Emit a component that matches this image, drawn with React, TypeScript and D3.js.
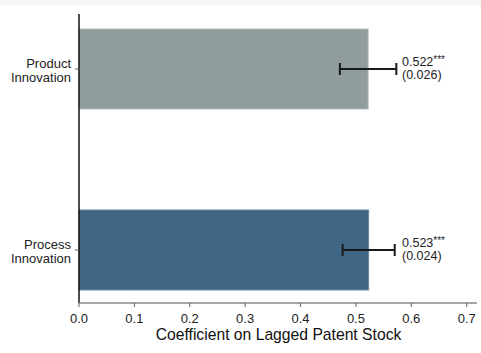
import React from "react";
import * as d3 from "d3";

const categories = ["Product Innovation", "Process Innovation"];
const labelLines = [["Product", "Innovation"], ["Process", "Innovation"]];
const coefs = [0.522, 0.523];
const stdErrs = [0.026, 0.024];
const coefLabels = ["0.522", "0.523"];
const seLabels = ["(0.026)", "(0.024)"];
const stars = ["***", "***"];
const barColors = ["#919d9c", "#3f6785"];
const barEdges = ["#b3bcbb", "#6a8aa2"];
const xTicks = [0, 0.1, 0.2, 0.3, 0.4, 0.5, 0.6, 0.7];

const W = 481;
const H = 353;
const FONT = "'Liberation Sans', Arial, Helvetica, sans-serif";

export default function App() {
  const x = d3.scaleLinear().domain([0, 0.7]).range([79, 466.7]);
  const y = d3.scalePoint<string>().domain(categories).range([69, 250]);
  const barH = 80;
  const axisY = 303;
  return (
    <svg
      width={W}
      height={H}
      style={{ position: "absolute", left: 0, top: 0, background: "#fff" }}
      fontFamily={FONT}
    >
      <rect x={0} y={0} width={W} height={5} fill="#f6f6f6" />
      {categories.map((c, i) => {
        const cy = y(c)!;
        return (
          <g key={c}>
            <rect
              x={x(0)}
              y={cy - barH / 2}
              width={x(coefs[i]) - x(0)}
              height={barH}
              fill={barColors[i]}
              stroke={barEdges[i]}
              strokeWidth={1}
            />
          </g>
        );
      })}
      {/* y axis */}
      <line x1={79} x2={79} y1={14} y2={axisY} stroke="#111" strokeWidth={1.5} />
      {/* x axis */}
      <line x1={79} x2={477} y1={axisY} y2={axisY} stroke="#888" strokeWidth={1.5} />
      {xTicks.map((t) => (
        <g key={t}>
          <line x1={x(t)} x2={x(t)} y1={axisY} y2={axisY + 4} stroke="#666" strokeWidth={1} />
          <text x={x(t)} y={322.5} textAnchor="middle" fontSize={13} fill="#222">
            {d3.format(".1f")(t)}
          </text>
        </g>
      ))}
      <text x={278.5} y={339.5} textAnchor="middle" fontSize={15.7} fill="#111">
        Coefficient on Lagged Patent Stock
      </text>
      {categories.map((c, i) => {
        const cy = y(c)!;
        const lo = x(coefs[i] - 1.96 * stdErrs[i]);
        const hi = x(coefs[i] + 1.96 * stdErrs[i]);
        return (
          <g key={"e" + c}>
            <line x1={75} x2={79} y1={cy} y2={cy} stroke="#666" strokeWidth={1} />
            <text textAnchor="end" fontSize={13} fill="#222">
              <tspan x={71} y={cy - 1.5}>{labelLines[i][0]}</tspan>
              <tspan x={71} y={cy + 12.5}>{labelLines[i][1]}</tspan>
            </text>
            <line x1={lo} x2={hi} y1={cy} y2={cy} stroke="#1a1a1a" strokeWidth={2} />
            <line x1={lo} x2={lo} y1={cy - 6} y2={cy + 6} stroke="#1a1a1a" strokeWidth={2} />
            <line x1={hi} x2={hi} y1={cy - 6} y2={cy + 6} stroke="#1a1a1a" strokeWidth={2} />
            <text fontSize={12.5} fill="#222">
              <tspan x={402} y={cy - 3.5}>{coefLabels[i]}</tspan>
              <tspan fontSize={10} dy={-3}>{stars[i]}</tspan>
            </text>
            <text fontSize={12.5} fill="#222" x={402} y={cy + 10}>
              {seLabels[i]}
            </text>
          </g>
        );
      })}
    </svg>
  );
}
